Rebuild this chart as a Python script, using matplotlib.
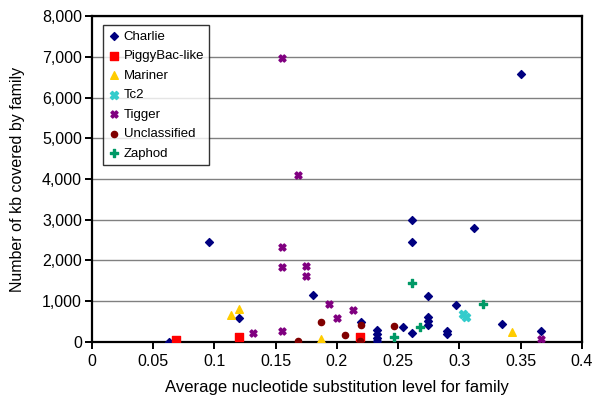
import matplotlib
matplotlib.use("Agg")
import matplotlib.pyplot as plt
from matplotlib.ticker import FuncFormatter

plt.rcParams['font.family'] = ['Liberation Sans', 'DejaVu Sans']

charlie_x = [0.0634, 0.096, 0.120, 0.1807, 0.2193, 0.233, 0.233, 0.233, 0.233, 0.2536,
             0.261, 0.261, 0.261, 0.2746, 0.2746, 0.2746, 0.2746, 0.2895, 0.2895, 0.2969,
             0.3118, 0.3347, 0.350, 0.3668]
charlie_y = [10, 2460, 587, 1160, 481, 300, 190, 90, 20, 367,
             2983, 2462, 228, 1132, 619, 521, 416, 277, 196, 905,
             2804, 448, 6580, 277]
piggy_x = [0.0688, 0.120, 0.219]
piggy_y = [57, 130, 115]
mariner_x = [0.1135, 0.120, 0.1867, 0.343]
mariner_y = [660, 815, 65, 237]
tc2_x = [0.303, 0.305]
tc2_y = [680, 620]
tigger_x = [0.1556, 0.168, 0.155, 0.155, 0.1744, 0.1744, 0.1932, 0.213, 0.1997, 0.1314, 0.155, 0.3668]
tigger_y = [6960, 4108, 2330, 1840, 1866, 1614, 937, 790, 587, 212, 277, 65]
uncl_x = [0.168, 0.187, 0.2065, 0.2193, 0.219, 0.2468]
uncl_y = [24, 497, 180, 424, 30, 391]
zaphod_x = [0.2468, 0.261, 0.2678, 0.3195]
zaphod_y = [115, 1435, 359, 921]

fig = plt.figure(figsize=(6.0, 4.11), dpi=100)
ax = fig.add_axes([0.153, 0.168, 0.817, 0.793])

ax.scatter(charlie_x, charlie_y, marker='D', s=16, color='#000080', label='Charlie', zorder=3)
ax.scatter(piggy_x, piggy_y, marker='s', s=26, color='#FF0000', label='PiggyBac-like', zorder=3)
ax.scatter(mariner_x, mariner_y, marker='^', s=30, color='#FFCC00', label='Mariner', zorder=3)
ax.scatter(tc2_x, tc2_y, marker='X', s=34, color='#33CCCC', label='Tc2', zorder=3)
ax.scatter(tigger_x, tigger_y, marker='X', s=26, color='#800080', label='Tigger', zorder=3)
ax.scatter(uncl_x, uncl_y, marker='o', s=20, color='#800000', label='Unclassified', zorder=3)
ax.scatter(zaphod_x, zaphod_y, marker='P', s=26, color='#009966', label='Zaphod', zorder=3)

ax.set_xlim(0, 0.4)
ax.set_ylim(0, 8000)
ax.set_xticks([0, 0.05, 0.1, 0.15, 0.2, 0.25, 0.3, 0.35, 0.4])
ax.set_xticklabels(['0', '0.05', '0.1', '0.15', '0.2', '0.25', '0.3', '0.35', '0.4'])
ax.set_yticks(range(0, 8001, 1000))
ax.yaxis.set_major_formatter(FuncFormatter(lambda v, p: f'{int(v):,}'))
ax.yaxis.grid(True, color='#808080', linewidth=1.0)
ax.set_axisbelow(True)
for s in ax.spines.values():
    s.set_linewidth(1.6)
    s.set_color('black')
ax.tick_params(axis='both', direction='out', length=5, width=1.4, labelsize=11.5, colors='black')
ax.tick_params(axis='y', pad=2)

ax.set_xlabel('Average nucleotide substitution level for family', fontsize=12, labelpad=8)
ax.set_ylabel('Number of kb covered by family', fontsize=11.5, labelpad=12)

leg = ax.legend(loc='upper left', bbox_to_anchor=(0.022, 0.972), fontsize=9.5, frameon=True,
                fancybox=False, edgecolor='black', handletextpad=0.2, handlelength=1.0,
                borderpad=0.4, labelspacing=0.55, borderaxespad=0.0)
leg.get_frame().set_linewidth(1.0)

fig.savefig('out.png', dpi=100)
